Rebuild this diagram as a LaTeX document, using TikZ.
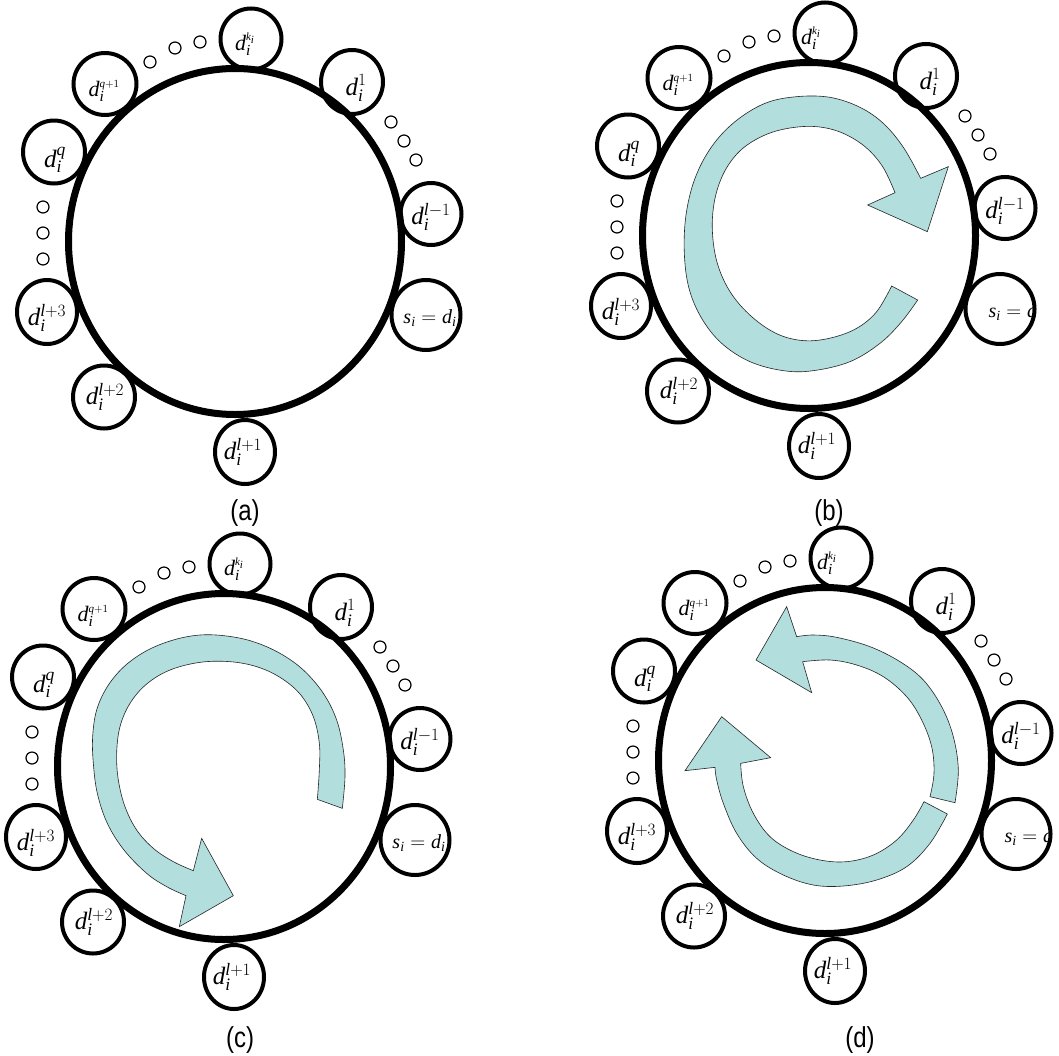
\documentclass[tikz,border=0pt]{standalone}
\usepackage{fontspec}
\setmainfont{Liberation Serif}
\newfontfamily\tagfont{Liberation Sans}
\usetikzlibrary{shapes.geometric}
\definecolor{arrowfill}{RGB}{178,222,222}
\newcommand\di[1]{$\mathit{d}_{\mathit{i}}^{#1}$}
\newcommand\el{\mathit{l}}
\tikzset{
  ring/.style={draw, ellipse, line width=7pt, minimum width=333pt, minimum height=346pt, inner sep=0pt},
  dnode/.style={draw, ellipse, line width=4pt, inner sep=0pt},
  dotnode/.style={draw, circle, line width=1.2pt, minimum size=12pt, inner sep=0pt},
  lab/.style={inner sep=0pt, font=\fontsize{25}{25}\selectfont},
  smalllab/.style={inner sep=0pt, font=\fontsize{22}{22}\selectfont},
  slab/.style={inner sep=0pt, font=\fontsize{20}{20}\selectfont},
  tag/.style={inner sep=0pt, font=\tagfont\fontsize{24}{24}\selectfont},
  turn/.style={fill=arrowfill, draw=black!85, line width=0.6pt}
}
% #1 prefix, #2 dx, #3 dy, #4 s label, #5 s label x, #6 k label x
\newcommand\ringpanel[6]{%
\begin{scope}[shift={(#2,#3)}]
  \node[ring] (#1ring) at (235,241.5) {};
  \node[dnode, minimum width=61pt, minimum height=61pt] (#1k)   at (251,39)  {};
  \node[dnode, minimum width=62pt, minimum height=64pt] (#1one) at (352,82)  {};
  \node[dnode, minimum width=61pt, minimum height=62pt] (#1lm)  at (431,214) {};
  \node[dnode, minimum width=69pt, minimum height=70pt] (#1s)   at (426,315) {};
  \node[dnode, minimum width=60pt, minimum height=64pt] (#1lp1) at (245,452) {};
  \node[dnode, minimum width=62pt, minimum height=63pt] (#1lp2) at (104,397) {};
  \node[dnode, minimum width=60pt, minimum height=64pt] (#1lp3) at (47,312)  {};
  \node[dnode, minimum width=62pt, minimum height=63pt] (#1q)   at (54,152)  {};
  \node[dnode, minimum width=63pt, minimum height=62pt] (#1qp)  at (105,84)  {};
  \node[smalllab] (#1kt)   at (#6,44)   {\di{\scriptscriptstyle \mathit{k}_{\mathit{i}}}};
  \node[lab]      (#1onet) at (356,88)  {\di{1}};
  \node[lab]      (#1lmt)  at (431,217) {\di{\el-1}};
  \node[lab]      (#1lp1t) at (243,452) {\di{\el+1}};
  \node[lab]      (#1lp2t) at (105,397) {\di{\el+2}};
  \node[lab]      (#1lp3t) at (47,318)  {\di{\el+3}};
  \node[lab]      (#1qt)   at (55,160)  {\di{\mathit{q}}};
  \node[smalllab] (#1qpt)  at (104,91)  {\di{\scriptscriptstyle \mathit{q}+1}};
  \begin{scope}
    \clip (385,290) rectangle (461,345);
    \node[slab] (#1st) at (#5,318) {#4};
  \end{scope}
  \node[dotnode] (#1t1) at (150,62)  {};
  \node[dotnode] (#1t2) at (175,48)  {};
  \node[dotnode] (#1t3) at (200,42)  {};
  \node[dotnode] (#1r1) at (391,122) {};
  \node[dotnode] (#1r2) at (404,141) {};
  \node[dotnode] (#1r3) at (416,160) {};
  \node[dotnode] (#1l1) at (43,207)  {};
  \node[dotnode] (#1l2) at (43,233)  {};
  \node[dotnode] (#1l3) at (43,259)  {};
\end{scope}}

\begin{document}
\begin{tikzpicture}[x=1pt, y=-1pt]
\useasboundingbox (0,0) rectangle (1059,1055);
\fill[white] (0,0) rectangle (1059,1055);

% arrows (traced in 3x local coordinates)
\begin{scope}[shift={(530,0)}, scale=1/3]
  \filldraw[turn] plot[smooth, tension=0.6] coordinates {(1163,900) (1115,965) (1050,1030) (960,1085) (850,1112) (760,1112) (660,1085) (575,1030) (515,955) (477,865) (463,760) (468,645) (495,535) (545,440) (615,365) (705,310) (800,290) (900,292) (990,322) (1062,372) (1122,445) (1172,535)}
   -- (1255,500) -- (1192,695) -- (1013,615)
   -- plot[smooth, tension=0.6] coordinates {(1095,578) (1058,500) (1005,440) (935,398) (860,380) (780,384) (705,405) (635,448) (585,512) (555,595) (547,690) (562,790) (602,878) (665,950) (742,1002) (822,1022) (902,1014) (980,985) (1040,935) (1085,858)} -- cycle;
\end{scope}
\begin{scope}[shift={(0,530)}, scale=1/3]
  \filldraw[turn] plot[smooth, tension=0.6] coordinates {(1027,835) (1035,740) (1030,660) (1010,570) (970,490) (910,420) (840,370) (760,335) (680,318) (600,315) (520,330) (440,362) (372,410) (322,470) (290,540) (278,620) (280,700) (292,790) (322,880) (372,960) (440,1030) (500,1070) (558,1097)}
   -- (538,1190) -- (700,1097) -- (605,925)
   -- plot[smooth, tension=0.6] coordinates {(580,1022) (520,995) (460,955) (410,900) (375,830) (355,750) (350,670) (360,590) (390,520) (440,462) (510,420) (600,397) (690,395) (770,410) (840,442) (900,492) (940,560) (958,640) (958,720) (952,808)} -- cycle;
\end{scope}
\begin{scope}[shift={(530,530)}, scale=1/3]
  \filldraw[turn] plot[smooth, tension=0.6] coordinates {(1275,818) (1285,720) (1270,620) (1235,530) (1180,450) (1110,395) (1020,350) (920,322) (850,315) (800,320)}
   -- (770,230) -- (678,390) -- (845,488)
   -- plot[smooth, tension=0.6] coordinates {(818,395) (900,390) (980,405) (1060,440) (1130,500) (1175,570) (1205,650) (1212,730) (1200,800)} -- cycle;
  \filldraw[turn] plot[smooth, tension=0.6] coordinates {(1252,852) (1200,940) (1130,1010) (1040,1050) (940,1068) (850,1065) (760,1035) (680,985) (620,910) (580,820) (560,750) (555,712)}
   -- (465,722) -- (575,560) -- (722,683)
   -- plot[smooth, tension=0.6] coordinates {(632,700) (640,770) (670,850) (720,920) (790,965) (870,990) (950,995) (1030,975) (1100,930) (1150,870) (1182,815)} -- cycle;
\end{scope}

\ringpanel{a}{0}{0}{$\mathit{s}_{\mathit{i}} = \mathit{d}_{\mathit{i}}$}{430}{245}
\ringpanel{b}{574}{-6}{$\mathit{s}_{\mathit{i}} = \mathit{d}_{\mathit{i}}$}{441}{237}
\ringpanel{c}{-11}{525}{$\mathit{s}_{\mathit{i}} = \mathit{d}_{\mathit{i}}$}{430}{245}
\ringpanel{d}{590}{519}{$\mathit{s}_{\mathit{i}} = \mathit{d}_{\mathit{i}}$}{441}{237}

\node[tag] (taga) at (245,513)  {\scalebox{1}[1.2]{(a)}};
\node[tag] (tagb) at (829,513)  {\scalebox{1}[1.2]{(b)}};
\node[tag] (tagc) at (240,1040) {\scalebox{1}[1.2]{(c)}};
\node[tag] (tagd) at (860,1040) {\scalebox{1}[1.2]{(d)}};
\end{tikzpicture}
\end{document}
